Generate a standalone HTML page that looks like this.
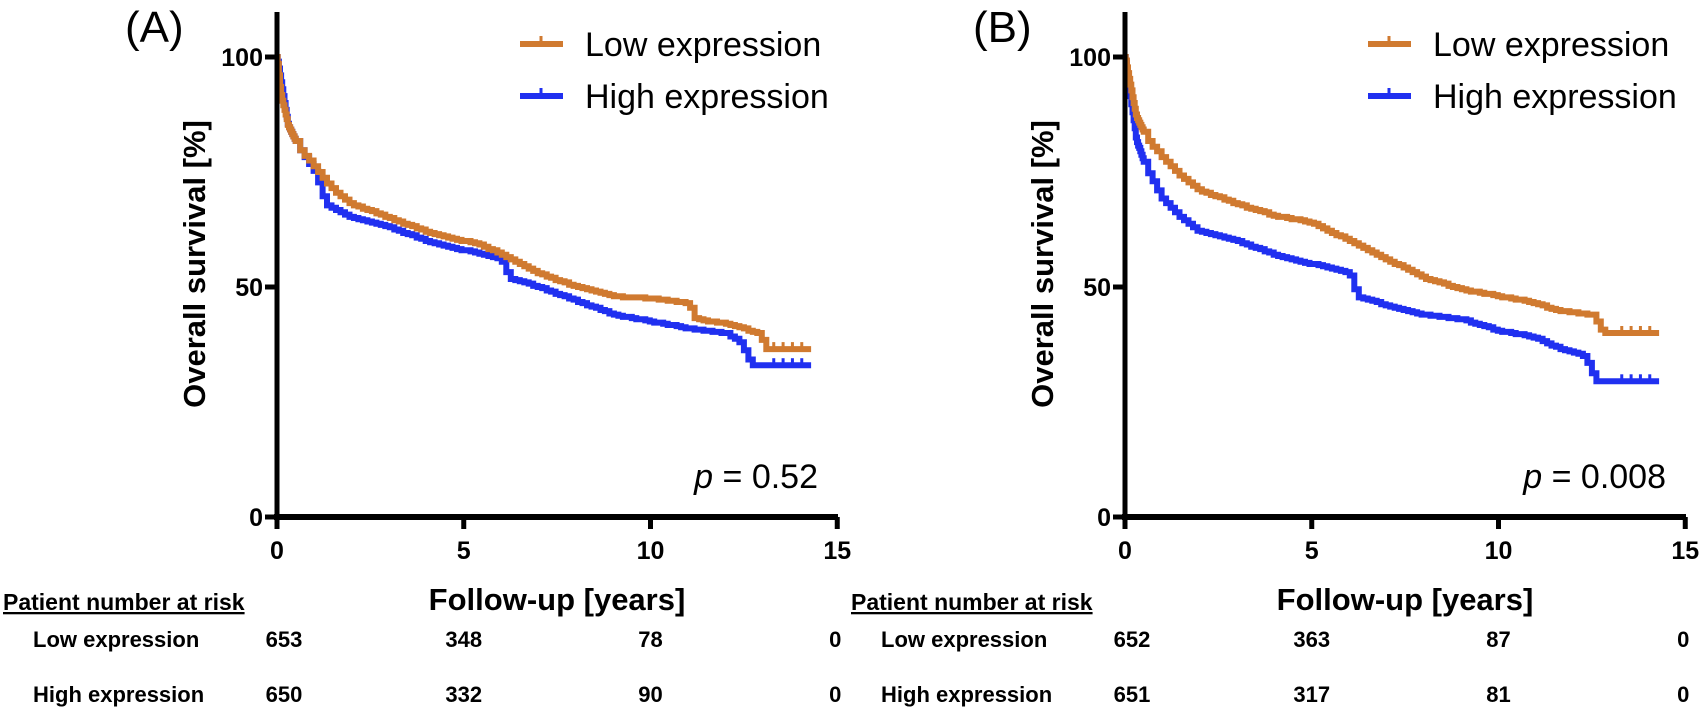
<!DOCTYPE html>
<html><head><meta charset="utf-8"><style>
body{margin:0;background:#fff;}
svg text{font-family:"Liberation Sans",Arial,sans-serif;}
</style></head><body>
<svg id="s" width="1705" height="712" viewBox="0 0 1705 712" xmlns="http://www.w3.org/2000/svg">
<g id="g"></g>
</svg>
<script>
const NS="http://www.w3.org/2000/svg";
const g=document.getElementById('g');
function el(t,a,txt){const e=document.createElementNS(NS,t);for(const k in a)e.setAttribute(k,a[k]);if(txt!==undefined)e.textContent=txt;g.appendChild(e);return e;}
const Y0=517,YS=4.6,XS=37.35;
const ORANGE="#d07a30",BLUE="#2030f0";
function interp(pts,t){for(let i=1;i<pts.length;i++){if(t<=pts[i][0]){const a=pts[i-1],b=pts[i];return a[1]+(b[1]-a[1])*(t-a[0])/(b[0]-a[0]);}}return pts[pts.length-1][1];}
function curve(ox,pts,col){
  const X=t=>ox+t*XS,Y=v=>Y0-v*YS;
  let d="M"+X(0)+","+Y(100);let prev=100;
  const ts=[];for(let t=0.02;t<0.5;t+=0.03)ts.push(t);for(let t=0.5;t<=14.3;t+=0.12)ts.push(t);
  for(const t of ts){const v=Math.round(interp(pts,t)*4)/4;d+=" H"+X(t).toFixed(1)+" V"+Y(v).toFixed(1);prev=v;}
  d+=" H"+X(14.3);
  el('path',{d:d,fill:'none',stroke:col,'stroke-width':6,'stroke-linejoin':'miter'});
  for(let t=13.3;t<14.3;t+=0.25)el('line',{x1:X(t),x2:X(t),y1:Y(prev)-7,y2:Y(prev),stroke:col,'stroke-width':3});
}
function panel(ox,label,p,lowPts,highPts,nums){
  el('text',{x:ox-152,y:42,'font-size':44},label);
  curve(ox,highPts,BLUE);curve(ox,lowPts,ORANGE);
  el('line',{x1:ox,y1:12,x2:ox,y2:Y0+3,stroke:'#000','stroke-width':5});
  el('line',{x1:ox-3,y1:Y0,x2:ox+561,y2:Y0,stroke:'#000','stroke-width':6});
  [[100,'100'],[50,'50'],[0,'0']].forEach(([v,s])=>{const y=Y0-v*YS;el('line',{x1:ox-12,x2:ox,y1:y,y2:y,stroke:'#000','stroke-width':5});el('text',{x:ox-14,y:y+9,'font-size':25,'font-weight':'bold','text-anchor':'end'},s);});
  [0,5,10,15].forEach(v=>{const x=ox+v*XS;el('line',{x1:x,x2:x,y1:Y0,y2:Y0+12,stroke:'#000','stroke-width':5});el('text',{x:x,y:559,'font-size':25,'font-weight':'bold','text-anchor':'middle'},String(v));});
  el('text',{x:0,y:0,'font-size':31,'font-weight':'bold','text-anchor':'middle',transform:`translate(${ox-72},264) rotate(-90)`},'Overall survival [%]');
  el('line',{x1:ox+243,x2:ox+286,y1:44,y2:44,stroke:ORANGE,'stroke-width':6});el('line',{x1:ox+264,x2:ox+264,y1:36,y2:44,stroke:ORANGE,'stroke-width':3});
  el('text',{x:ox+308,y:56,'font-size':34},'Low expression');
  el('line',{x1:ox+243,x2:ox+286,y1:96,y2:96,stroke:BLUE,'stroke-width':6});el('line',{x1:ox+264,x2:ox+264,y1:88,y2:96,stroke:BLUE,'stroke-width':3});
  el('text',{x:ox+308,y:108,'font-size':34},'High expression');
  const pt=el('text',{x:ox+541,y:488,'font-size':34,'text-anchor':'end'});
  pt.innerHTML='<tspan font-style="italic">p</tspan> = '+p;
  el('text',{x:ox+280,y:610,'font-size':31,'font-weight':'bold','text-anchor':'middle'},'Follow-up [years]');
  el('text',{x:ox-274,y:610,'font-size':23,'font-weight':'bold','text-decoration':'underline'},'Patient number at risk');
  el('text',{x:ox-244,y:647,'font-size':22,'font-weight':'bold'},'Low expression');
  el('text',{x:ox-244,y:702,'font-size':22,'font-weight':'bold'},'High expression');
  [0,5,10,15].forEach((v,i)=>{const x=ox+v*XS+(i==0?7:i==3?-2:0);
    el('text',{x:x,y:647,'font-size':22,'font-weight':'bold','text-anchor':'middle'},nums[0][i]);
    el('text',{x:x,y:702,'font-size':22,'font-weight':'bold','text-anchor':'middle'},nums[1][i]);});
}
panel(277,'(A)','0.52',
 [[0,100],[0.1,92],[0.3,85],[0.6,80],[1,76],[1.5,71],[2,68],[3,65],[4,62],[5,60],[5.5,59],[6,57],[7,53],[8,50],[9,48],[10,47.5],[11,46.5],[11.2,43],[12,42],[12.9,40],[13.1,36.5],[14.3,36.5]],
 [[0,100],[0.3,85],[0.6,80],[1,75],[1.3,68],[2,65],[3,63],[4,60],[5,58],[6,56],[6.2,52],[7,50],[8,47],[9,44],[10,42.5],[11,41],[12,40],[12.4,38],[12.7,33],[14.3,33]],
 [['653','348','78','0'],['650','332','90','0']]);
panel(1125,'(B)','0.008',
 [[0,100],[0.3,87],[0.6,82],[1,78],[1.5,74],[2,71],[3,68],[4,65.5],[5,64],[6,60],[7,56],[8,52],[9,49.5],[10,48],[11,46.5],[11.5,45],[12.5,44],[12.8,40],[14.3,40]],
 [[0,100],[0.3,82],[0.6,75],[1,69],[1.5,65],[2,62],[3,60],[4,57],[5,55],[6,53],[6.2,48],[7,46],[8,44],[9,43],[10,40.5],[11,39],[11.5,37],[12.3,35],[12.6,29.5],[14.3,29.5]],
 [['652','363','87','0'],['651','317','81','0']]);
</script>
</body></html>
